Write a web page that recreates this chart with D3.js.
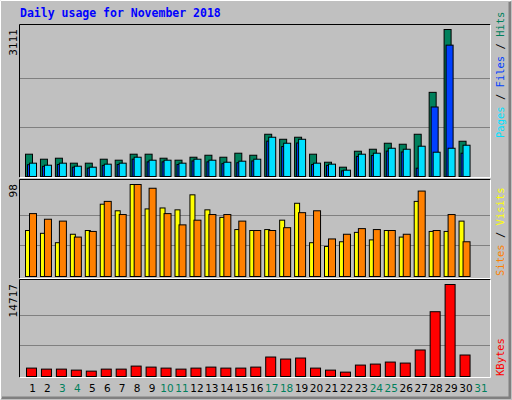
<!DOCTYPE html><html><head><meta charset="utf-8">
<script src="https://cdn.jsdelivr.net/npm/d3@7"></script>
<style>body{margin:0;background:#fff}svg{display:block}</style></head><body>
<script>
const days = d3.range(1,32);
const weekend = [3,4,10,11,17,18,24,25,31];
const hits  = [472,366,387,282,282,366,345,472,472,387,345,408,450,408,493,450,894,788,831,472,302,197,535,577,704,683,894,1781,3111,746];
const files = [250,215,254,196,177,235,254,367,310,310,254,329,310,272,291,329,748,634,709,254,235,120,425,444,538,519,176,1471,2780,493];
const pages = [282,239,282,218,197,261,282,408,345,345,282,366,345,302,324,366,831,704,788,282,261,134,472,493,598,577,641,514,598,662];
const sites = [49,46,36,45,49,77,70,98,72,73,71,87,71,63,50,49,50,60,78,36,32,37,47,39,49,42,80,48,48,59];
const visits= [67,61,59,42,48,80,66,98,94,67,55,60,66,66,59,49,49,52,68,70,40,45,51,50,49,45,91,49,66,37];
const kbytes= [1343,1181,1181,1020,859,1181,1181,1665,1504,1343,1181,1343,1504,1343,1343,1504,3115,2792,2954,1343,1020,698,1826,1987,2309,2148,4242,10364,14717,3437];
const maxHits=3111, maxSites=98, maxKB=14717;

const W=512,H=400;
const svg=d3.select("body").append("svg").attr("width",W).attr("height",H);
svg.append("rect").attr("width",W).attr("height",H).attr("fill","#c0c0c0");
// outer 3D border
svg.append("path").attr("d","M0.5,399.5V0.5H511.5").attr("stroke","#fff").attr("fill","none");
svg.append("path").attr("d","M1.5,398.5H510.5V1.5").attr("stroke","#808080").attr("fill","none").attr("stroke-width",1);
svg.append("path").attr("d","M2,397.5H509.5V2").attr("stroke","#808080").attr("fill","none").attr("stroke-width",2);

svg.append("text").attr("x",20).attr("y",17).text("Daily usage for November 2018")
  .attr("font-family","DejaVu Sans Mono").attr("font-weight","bold").attr("font-size",11.5).attr("fill","#0000ff");

const x=d3.scaleBand().domain(days).range([25,25+14.95*31]).padding(0);
const X0=20,X1=490;
function panel(y0,y1){
  svg.append("path").attr("d",`M${X0-0.5},${y1+0.5}V${y0-0.5}H${X1+0.5}`).attr("stroke","#000").attr("fill","none");
  svg.append("path").attr("d",`M${X0-0.5},${y1+0.5}H${X1+0.5}V${y0-0.5}`).attr("stroke","#fff").attr("fill","none");
}
function grid(y){ [1/3,2/3].forEach(f=>{const v=y.domain()[1]*f;
  svg.append("line").attr("x1",X0).attr("x2",X1).attr("y1",Math.round(y(v))+0.5).attr("y2",Math.round(y(v))+0.5).attr("stroke","#808080");});}
function bars(data,y,off,w,col){
  svg.append("g").selectAll("rect").data(data).join("rect")
   .attr("x",(d,i)=>x(i+1)+off+0.5).attr("width",w).attr("y",d=>y(d)+0.5).attr("height",d=>y.range()[0]-y(d))
   .attr("fill",col).attr("stroke","#000").attr("stroke-width",1);
}
function ylab(txt,yy){ svg.append("text").attr("transform",`translate(17,${yy}) rotate(-90)`).attr("text-anchor","end")
  .attr("font-family","DejaVu Sans").attr("font-size",10.5).text(txt);}
function rlab(parts,yy){ const t=svg.append("text").attr("transform",`translate(496,${yy}) rotate(90)`)
  .attr("font-family","DejaVu Sans Mono").attr("font-size",10.5);
  parts.forEach(p=>t.append("tspan").attr("fill",p[1]).text(p[0])); }

// top
panel(25,177);
const y1=d3.scaleLinear().domain([0,maxHits]).range([176,29]);
grid(y1);
bars(hits,y1,0,7,"#00805c");
bars(files,y1,2,7,"#0040ff");
bars(pages,y1,4,7,"#00e0ff");
ylab(String(maxHits),29);
// middle
panel(180,278);
const y2=d3.scaleLinear().domain([0,maxSites]).range([276,184]);
grid(y2);
bars(sites,y2,0,5,"#ffff00");
bars(visits,y2,4,7,"#ff8000");
ylab(String(maxSites),184);
// bottom
panel(280,377);
const y3=d3.scaleLinear().domain([0,maxKB]).range([376,284]);
grid(y3);
bars(kbytes,y3,1,10,"#ff0000");
ylab(String(maxKB),284);

// right labels (read bottom-to-top)
function rlabUp(parts,yy){ const t=svg.append("text").attr("transform",`translate(504,${yy}) rotate(-90)`)
  .attr("font-family","DejaVu Sans Mono").attr("font-size",10.5);
  parts.forEach(p=>t.append("tspan").attr("fill",p[1]).text(p[0])); }
rlabUp([["Pages","#00e0ff"],[" / ","#000"],["Files","#0040ff"],[" / ","#000"],["Hits","#00805c"]],138);
rlabUp([["Sites","#ff8000"],[" / ","#000"],["Visits","#ffff00"]],276);
rlabUp([["KBytes","#ff0000"]],376);

svg.append("g").selectAll("text").data(days).join("text")
  .attr("x",d=>x(d)+x.bandwidth()/2).attr("y",392).attr("text-anchor","middle")
  .attr("font-family","DejaVu Sans").attr("font-size",10.5)
  .attr("fill",d=>weekend.includes(d)?"#00805c":"#000").text(d=>d);
</script></body></html>
